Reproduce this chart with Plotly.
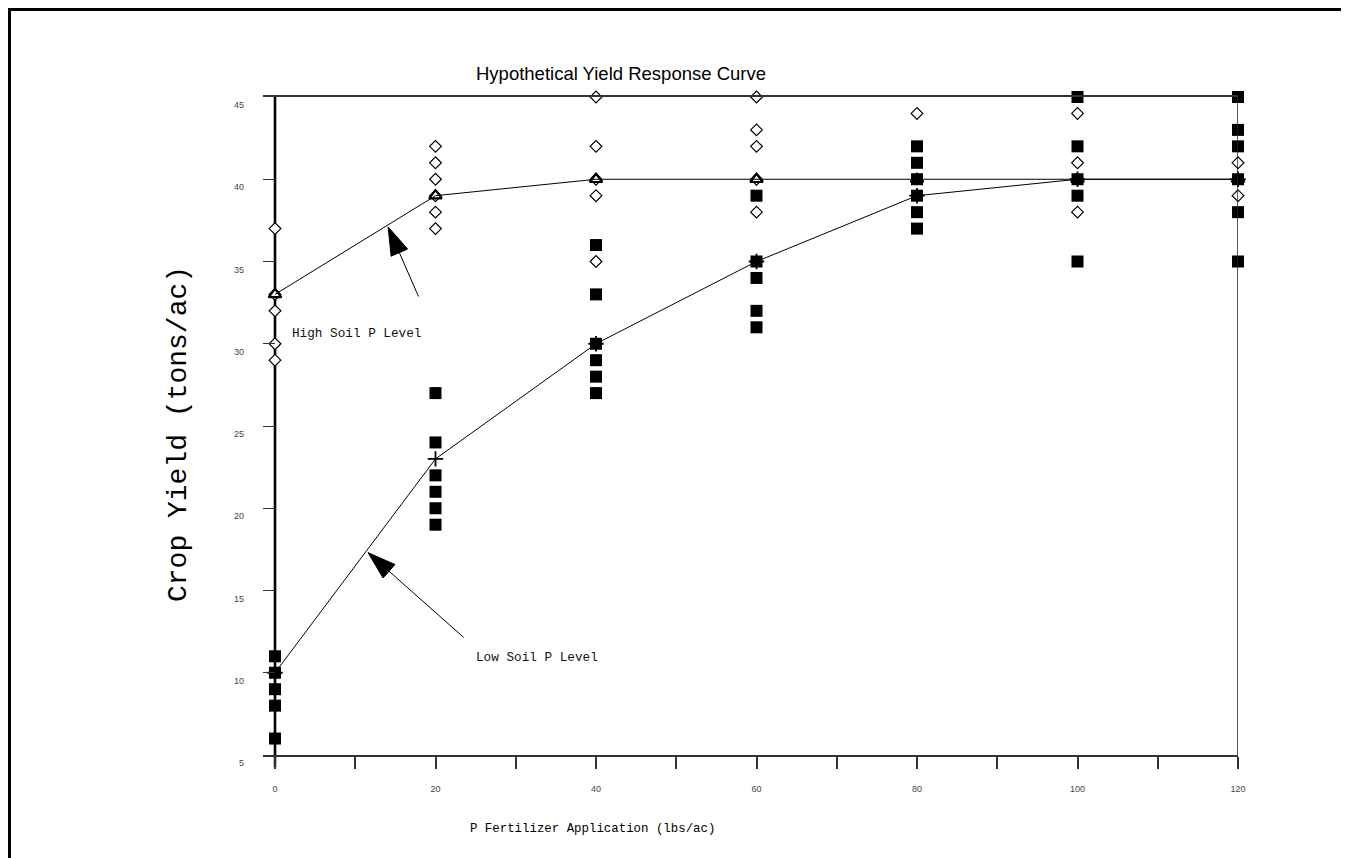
import math
import plotly.graph_objects as go

# ---------------- data ----------------
x_levels = [0, 20, 40, 60, 80, 100, 120]
high_mean = [33, 39, 40, 40, 40, 40, 40]
low_mean = [10, 23, 30, 35, 39, 40, 40]

high_obs_x = [0, 0, 0, 0, 0,
              20, 20, 20, 20, 20, 20,
              40, 40, 40, 40, 40,
              60, 60, 60, 60, 60,
              80,
              100, 100, 100,
              120, 120]
high_obs_y = [37, 33, 32, 30, 29,
              42, 41, 40, 39, 38, 37,
              45, 42, 40, 39, 35,
              45, 43, 42, 40, 38,
              44,
              44, 41, 38,
              41, 39]

low_obs_x = [0, 0, 0, 0, 0,
             20, 20, 20, 20, 20, 20,
             40, 40, 40, 40, 40, 40,
             60, 60, 60, 60, 60,
             80, 80, 80, 80, 80, 80,
             100, 100, 100, 100, 100,
             120, 120, 120, 120, 120, 120]
low_obs_y = [11, 10, 9, 8, 6,
             27, 24, 22, 21, 20, 19,
             36, 33, 30, 29, 28, 27,
             39, 35, 34, 32, 31,
             42, 41, 40, 39, 38, 37,
             45, 42, 40, 39, 35,
             45, 43, 42, 40, 38, 35]

x_tick_vals = [0, 10, 20, 30, 40, 50, 60, 70, 80, 90, 100, 110, 120]
x_tick_text = ["0", "", "20", "", "40", "", "60", "", "80", "", "100", "", "120"]
y_tick_vals = [5, 10, 15, 20, 25, 30, 35, 40, 45]
y_tick_text = ["5", "10", "15", "20", "25", "30", "35", "40", "45"]

title_text = "Hypothetical Yield Response Curve"
x_title = "P Fertilizer Application (lbs/ac)"
y_title = "Crop Yield (tons/ac)"
high_label = "High Soil P Level"
low_label = "Low Soil P Level"

# ---------------- layout geometry (figure pixel coords) ----------------
FIG_W, FIG_H = 1349, 858
PL, PR, PT, PB = 255, 1230, 89, 747
PW, PH = PR - PL, PB - PT
X0_PX = 267
px_per_x = (PR - X0_PX) / 120.0
x_min = -(X0_PX - PL) / px_per_x

def paper_x(px):
    return (px - PL) / PW

def paper_y(py):
    return (PB - py) / PH

MONO = "Courier New, Liberation Mono, monospace"
SANS = "Arial, Liberation Sans, sans-serif"

fig = go.Figure()

fig.add_trace(go.Scatter(
    x=low_obs_x, y=low_obs_y, mode="markers", cliponaxis=False,
    marker=dict(symbol="square", size=12, color="black", line=dict(width=0)),
    hoverinfo="skip"))

fig.add_trace(go.Scatter(
    x=high_obs_x, y=high_obs_y, mode="markers", cliponaxis=False,
    marker=dict(symbol="diamond", size=9, color="white",
                line=dict(width=1.2, color="black")),
    hoverinfo="skip"))

fig.add_trace(go.Scatter(
    x=x_levels, y=low_mean, mode="lines+markers", cliponaxis=False,
    line=dict(color="black", width=1),
    marker=dict(symbol="cross-thin", size=11, color="black",
                line=dict(width=1.8, color="black")),
    hoverinfo="skip"))

fig.add_trace(go.Scatter(
    x=x_levels, y=high_mean, mode="lines+markers", cliponaxis=False,
    line=dict(color="black", width=1),
    marker=dict(symbol="triangle-up-open", size=11, color="black",
                line=dict(width=2.2, color="black")),
    hoverinfo="skip"))

shapes = []
# right frame line at x=120
shapes.append(dict(type="line", xref="x", yref="paper", x0=120, x1=120,
                   y0=0, y1=1, line=dict(color="#222", width=1.5)))
# thick y axis at x=0 (extends through the 0 tick)
shapes.append(dict(type="line", xref="x", yref="paper", x0=0, x1=0,
                   y0=-12 / PH, y1=1, line=dict(color="black", width=2.6),
                   layer="below"))
# outer border
shapes.append(dict(type="rect", xref="paper", yref="paper",
                   x0=paper_x(1), x1=paper_x(1339),
                   y0=paper_y(900), y1=paper_y(1),
                   line=dict(color="black", width=4)))

annotations = []

def add_arrow(tip_x, tip_y, ax, ay):
    # shaft
    annotations.append(dict(x=tip_x, y=tip_y, xref="x", yref="y", text="",
                            showarrow=True, arrowhead=0, arrowwidth=1,
                            arrowcolor="black", ax=ax, ay=ay, standoff=0))
    # filled head (pixel-sized path anchored at the tip)
    L = math.hypot(ax, ay)
    ux, uy = ax / L, ay / L
    hl, hw = 28, 9
    bx, by = ux * hl, uy * hl
    px_, py_ = -uy, ux
    c1 = (bx + px_ * hw, by + py_ * hw)
    c2 = (bx - px_ * hw, by - py_ * hw)
    path = "M 0 0 L {:.2f} {:.2f} L {:.2f} {:.2f} Z".format(
        c1[0], -c1[1], c2[0], -c2[1])
    shapes.append(dict(type="path", xref="x", yref="y",
                       xsizemode="pixel", ysizemode="pixel",
                       xanchor=tip_x, yanchor=tip_y, path=path,
                       fillcolor="black", line=dict(color="black", width=1)))

add_arrow(14.1, 37.1, 31, 71)
add_arrow(11.6, 17.3, 97, 86)

annotations.append(dict(x=10.2, y=30.6, xref="x", yref="y", text=high_label,
                        xanchor="center", yanchor="middle",
                        showarrow=False, font=dict(family=MONO, size=12.7, color="#111")))
annotations.append(dict(x=32.6, y=10.9, xref="x", yref="y", text=low_label,
                        xanchor="center", yanchor="middle",
                        showarrow=False, font=dict(family=MONO, size=12.7, color="#111")))

annotations.append(dict(x=paper_x(613), y=paper_y(65), xref="paper", yref="paper",
                        xanchor="center", yanchor="middle",
                        text=title_text, showarrow=False,
                        font=dict(family=SANS, size=18.5, color="black")))
annotations.append(dict(x=paper_x(584), y=paper_y(821), xref="paper", yref="paper",
                        xanchor="center", yanchor="middle",
                        text=x_title, showarrow=False,
                        font=dict(family=MONO, size=12.4, color="black")))
annotations.append(dict(x=paper_x(170), y=paper_y(426), xref="paper", yref="paper",
                        xanchor="center", yanchor="middle",
                        text=y_title, showarrow=False, textangle=-90,
                        font=dict(family=MONO, size=28, color="black")))

fig.update_layout(
    width=FIG_W, height=FIG_H, autosize=False,
    margin=dict(l=PL, r=FIG_W - PR, t=PT, b=FIG_H - PB, pad=0),
    paper_bgcolor="white", plot_bgcolor="white",
    showlegend=False,
    shapes=shapes, annotations=annotations,
    xaxis=dict(range=[x_min, 120], showgrid=False, zeroline=False,
               showline=True, mirror=True, linecolor="#333", linewidth=1.5,
               ticks="outside", ticklen=12, tickwidth=1.5, tickcolor="#333",
               tickvals=x_tick_vals, ticktext=x_tick_text,
               tickfont=dict(family=SANS, size=9, color="#444"),
               ticklabelstandoff=12),
    yaxis=dict(range=[5, 45], showgrid=False, zeroline=False,
               showline=False,
               ticks="inside", ticklen=12, tickwidth=1.2, tickcolor="#333",
               tickvals=y_tick_vals, ticktext=y_tick_text,
               tickfont=dict(family=SANS, size=9, color="#444"),
               ticklabelstandoff=18, ticklabelshift=8),
)

fig.write_html("out.html")
